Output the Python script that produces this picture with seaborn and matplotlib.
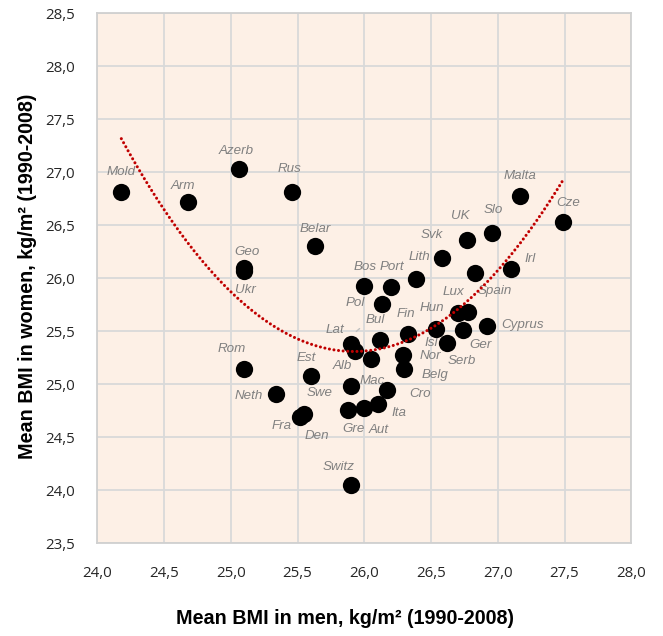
import numpy as np
import pandas as pd
import matplotlib
matplotlib.use("Agg")
import matplotlib.pyplot as plt
import seaborn as sns
from matplotlib import font_manager as fm
from matplotlib.ticker import MultipleLocator, FuncFormatter
from matplotlib.transforms import ScaledTranslation

# Mean BMI by country, 1990-2008
countries = ["Mold", "Arm", "Azerb", "Rus", "Belar", "Geo", "Ukr", "Rom", "Neth",
             "Fra", "Den", "Est", "Swe", "Lat", "Alb", "Mac", "Bul", "Bos", "Pol",
             "Port", "Lith", "Fin", "Nor", "Belg", "Cro", "Gre", "Aut", "Ita",
             "Switz", "Hun", "Isl", "Lux", "Ger", "Serb", "Cyprus", "Spain", "Svk",
             "UK", "Slo", "Malta", "Cze", "Irl"]
bmi_men = [24.18, 24.68, 25.06, 25.46, 25.63, 25.10, 25.10, 25.10, 25.34,
           25.52, 25.55, 25.60, 25.90, 25.90, 25.93, 26.05, 26.12, 26.00, 26.13,
           26.20, 26.39, 26.33, 26.29, 26.30, 26.17, 25.88, 26.00, 26.10,
           25.90, 26.54, 26.62, 26.70, 26.78, 26.74, 26.92, 26.83, 26.58,
           26.77, 26.96, 27.17, 27.49, 27.10]
bmi_women = [26.81, 26.72, 27.03, 26.81, 26.30, 26.10, 26.07, 25.14, 24.91,
             24.69, 24.72, 25.08, 24.98, 25.38, 25.31, 25.24, 25.42, 25.93, 25.76,
             25.92, 25.99, 25.47, 25.28, 25.14, 24.95, 24.76, 24.78, 24.81,
             24.05, 25.52, 25.39, 25.67, 25.68, 25.51, 25.55, 26.05, 26.19,
             26.36, 26.43, 26.78, 26.53, 26.09]

# label placement (pixels, x right / y up) relative to each marker
label_offsets = {
    "Mold": (0, 20), "Arm": (-5, 16), "Azerb": (-3, 18), "Rus": (-3, 23),
    "Belar": (0, 17), "Geo": (3, 16), "Ukr": (1, -19), "Rom": (-12, 20),
    "Neth": (-27, -2), "Fra": (-19, -9), "Den": (13, -22), "Est": (-5, 18),
    "Swe": (-31, -7), "Lat": (-16, 14), "Alb": (-13, -15), "Mac": (1, -22),
    "Bul": (-5, 20), "Bos": (1, 19), "Pol": (-26, 1), "Port": (1, 20),
    "Lith": (3, 22), "Fin": (-2, 20), "Nor": (27, -1), "Belg": (31, -6),
    "Cro": (33, -4), "Gre": (5, -19), "Aut": (14, -22), "Ita": (21, -9),
    "Switz": (-12, 18), "Hun": (-4, 21), "Isl": (-16, 0), "Lux": (-4, 21),
    "Ger": (12, -33), "Serb": (-1, -31), "Cyprus": (35, 1), "Spain": (20, -18),
    "Svk": (-10, 23), "UK": (-7, 24), "Slo": (1, 23), "Malta": (0, 20),
    "Cze": (5, 19), "Irl": (19, 10),
}

df = pd.DataFrame({"country": countries, "men": bmi_men, "women": bmi_women})


def pick_font(names, default="DejaVu Sans"):
    for name in names:
        try:
            fm.findfont(fm.FontProperties(family=name), fallback_to_default=False)
            return name
        except Exception:
            pass
    return default


sns.set_theme(style="white")
sans = pick_font(["Liberation Sans", "Arial"])
tick_font = pick_font(["Open Sans", "Lato", "DejaVu Sans"])
plt.rcParams["font.family"] = [tick_font, "DejaVu Sans"]

W, H = 663, 636
fig = plt.figure(figsize=(W / 100, H / 100), dpi=100, facecolor="white")
left, right, top, bottom = 97.3, 631.3, 13.3, 543.3
ax = fig.add_axes([left / W, 1 - bottom / H, (right - left) / W, (bottom - top) / H])
ax.set_facecolor("#FDF0E6")

ax.set_xlim(24.0, 28.0)
ax.set_ylim(23.5, 28.5)
ax.xaxis.set_major_locator(MultipleLocator(0.5))
ax.yaxis.set_major_locator(MultipleLocator(0.5))
comma = FuncFormatter(lambda v, p: f"{v:.1f}".replace(".", ","))
ax.xaxis.set_major_formatter(comma)
ax.yaxis.set_major_formatter(comma)
ax.grid(True, color="#D9D9D9", linewidth=1.3, zorder=0)
ax.set_axisbelow(True)
for sp in ax.spines.values():
    sp.set_color("#D0D0D0")
    sp.set_linewidth(1.3)
ax.tick_params(axis="both", length=0, labelsize=10.8, labelcolor="#262626")
ax.tick_params(axis="x", pad=16)
ax.tick_params(axis="y", pad=16)

# country labels sit beneath the markers
for c, xm, yw in zip(countries, bmi_men, bmi_women):
    dx, dy = label_offsets[c]
    ax.annotate(c, xy=(xm, yw), xytext=(dx, dy), textcoords="offset pixels",
                ha="center", va="center", fontsize=9.6,
                fontstyle="italic", color="#808080", family=sans, zorder=2)

# short leader line next to the Lat label
lat_i = countries.index("Lat")
p = (bmi_men[lat_i], bmi_women[lat_i])
t_a = ax.transData + ScaledTranslation(3.3 / 100, 10.7 / 100, fig.dpi_scale_trans)
t_b = ax.transData + ScaledTranslation(10.7 / 100, 17.3 / 100, fig.dpi_scale_trans)
ax.annotate("", xy=p, xycoords=t_b, xytext=p, textcoords=t_a,
            arrowprops=dict(arrowstyle="-", color="#BFBFBF", lw=1.0), zorder=2)

sns.scatterplot(data=df, x="men", y="women", ax=ax, s=155, color="black",
                edgecolor="black", linewidth=0, zorder=3, legend=False)
ax.set_xlabel("")
ax.set_ylabel("")

# second-order polynomial trend
coef = np.polyfit(df["men"], df["women"], 2)
xs = np.linspace(df["men"].min(), df["men"].max(), 300)
ax.plot(xs, np.polyval(coef, xs), color="#C00000", lw=2.2,
        linestyle=(0, (0.01, 1.5)), dash_capstyle="round", zorder=4)

fig.text(345.5 / W, 1 - 618 / H, "Mean BMI in men, kg/m\u00b2 (1990-2008)",
         ha="center", va="center", fontsize=14.2, fontweight="bold",
         family=sans, color="black")
fig.text(28 / W, 1 - 276 / H, "Mean BMI in women, kg/m\u00b2 (1990-2008)",
         ha="center", va="center", rotation=90, fontsize=14.2,
         fontweight="bold", family=sans, color="black")

fig.savefig("out.png", dpi=100, facecolor="white")
